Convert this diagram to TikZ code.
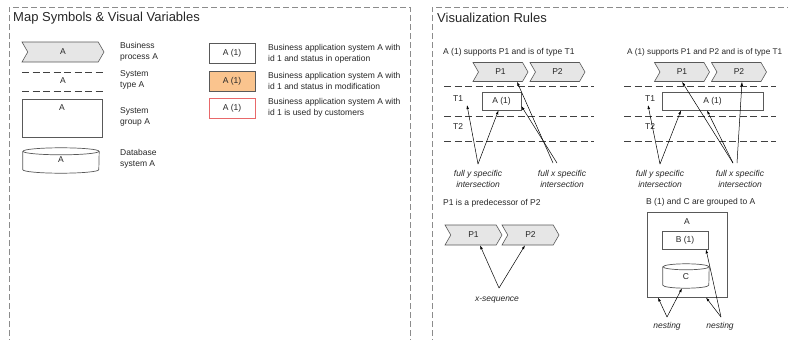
\documentclass[tikz,border=0pt]{standalone}
\usepackage{fontspec}
\setmainfont{Liberation Sans}
\usepackage{tikz}
\usetikzlibrary{calc,positioning,arrows.meta,shapes.symbols}
\definecolor{frame}{HTML}{8C8C8C}
\definecolor{rule}{HTML}{404040}
\definecolor{procfill}{HTML}{E6E6E6}
\definecolor{procline}{HTML}{595959}
\definecolor{modfill}{HTML}{FAC48E}
\definecolor{custline}{HTML}{E8686A}
\definecolor{ink}{HTML}{262626}

\begin{document}
\begin{tikzpicture}[x=1pt, y=-1pt, font=\fontsize{8.5}{11}\selectfont, text=ink,
  ttl/.style={anchor=west, inner sep=0pt, font=\fontsize{13}{15}\selectfont},
  lbl/.style={anchor=west, inner sep=0pt, align=left},
  note/.style={inner sep=0pt, align=center, font=\fontsize{8.5}{10.5}\selectfont\itshape},
  proc/.style={signal, signal to=east, signal from=west, signal pointer angle=120, draw=procline, fill=procfill, line width=0.6pt, minimum height=19pt, minimum width=55pt, inner sep=0pt},
  app/.style={rectangle, draw=procline, fill=white, line width=0.7pt, minimum height=18pt, inner sep=0pt},
  dbbox/.style={rectangle, inner sep=0pt},
  dbline/.style={draw=procline, line width=0.7pt},
  arr/.style={-{Latex[length=4pt,width=2.6pt]}, line width=0.5pt, black}]
\tikzstyle{panel}=[draw=frame, line width=0.8pt, dash pattern=on 6pt off 3pt]
\tikzstyle{lane}=[draw=rule, line width=0.7pt, dash pattern=on 7pt off 3.5pt]
\useasboundingbox (0,0) rectangle (788,340);

% panels
\draw[panel] (9,345) -- (9,7) -- (410,7) -- (410,345);
\draw[panel] (432,345) -- (432,7) -- (795,7);
\node[ttl] (mapttl) at (13,18) {Map Symbols \& Visual Variables};
\node[ttl] (rulttl) at (437,18) {Visualization Rules};

% legend, first column
\node[proc, minimum width=82pt, minimum height=20pt] (bp) at (63,52) {A};
\node (st) at (63,81) {A};
\draw[lane] (22,72) -- (104,72) (22,91) -- (104,91);
\node[app, minimum width=80pt, minimum height=38pt] (sg) at (62,118) {};
\node (sgA) at (62,108) {A};
\node[dbbox, minimum width=76pt, minimum height=25pt] (dbA) at (61,160.5) {};
\draw[dbline] ([yshift=-3.5pt]dbA.north west) -- ([yshift=3.5pt]dbA.south west)
  arc[start angle=180, end angle=360, x radius=38pt, y radius=3.5pt] -- ([yshift=-3.5pt]dbA.north east);
\draw[dbline] ([yshift=-3.5pt]dbA.north) ellipse [x radius=38pt, y radius=3.5pt];
\node (dbAt) at (61,160) {A};
\node[lbl] (bpl) at (120,52) {Business\\process A};
\node[lbl] (stl) at (120,80) {System\\type A};
\node[lbl] (sgl) at (120,117) {System\\group A};
\node[lbl] (dbl) at (120,159) {Database\\system A};

% legend, second column
\node[app, minimum width=46pt, minimum height=20pt] (op) at (232,53) {A (1)};
\node[app, minimum width=46pt, minimum height=20pt, fill=modfill] (md) at (232,81) {A (1)};
\node[app, minimum width=46pt, minimum height=20pt, draw=custline] (cu) at (232,108.5) {A (1)};
\node[lbl] (opl) at (268,53.5) {Business application system A with\\id 1 and status in operation};
\node[lbl] (mdl) at (268,80.5) {Business application system A with\\id 1 and status in modification};
\node[lbl] (cul) at (268,108) {Business application system A with\\id 1 is used by customers};

% rule 1
\node[lbl] (r1) at (443,52) {A (1) supports P1 and is of type T1};
\node[proc] (p1a) at (500.5,72) {P1};
\node[proc] (p2a) at (557.5,72) {P2};
\draw[lane] (444,86) -- (594,86) (444,116) -- (594,116) (444,141) -- (594,141);
\node[lbl] (t1a) at (453,99) {T1};
\node[lbl] (t2a) at (453,127) {T2};
\node[app, minimum width=39pt] (a1a) at (501.5,101) {A (1)};
\node[note] (fya) at (478,179) {full y specific\\intersection};
\node[note] (fxa) at (562,179) {full x specific\\intersection};
\coordinate (ya) at (478,164);
\coordinate (xa1) at (553,163);
\coordinate (xa2) at (557,163);
\coordinate (t1ahit) at (467,105);
\coordinate (a1ahit) at ([xshift=-3pt]a1a.south);
\coordinate (p1ahit) at ([xshift=16.5pt]p1a.south);
\coordinate (a1aside) at ([yshift=-5pt]a1a.east);

% rule 2
\node[lbl, font=\fontsize{8.2}{11}\selectfont] (r2) at (627,52) {A (1) supports P1 and P2 and is of type T1};
\node[proc] (p1b) at (682,72) {P1};
\node[proc] (p2b) at (739,72) {P2};
\draw[lane] (624,86) -- (776,86) (624,116) -- (776,116) (624,141) -- (776,141);
\node[lbl] (t1b) at (645,99) {T1};
\node[lbl] (t2b) at (645,127) {T2};
\node[app, minimum width=101pt] (a1b) at (712.5,101) {A (1)};
\node[note] (fyb) at (660,179) {full y specific\\intersection};
\node[note] (fxb) at (740,179) {full x specific\\intersection};
\coordinate (yb) at (660,164);
\coordinate (xb1) at (733,163);
\coordinate (xb2) at (737,163);
\coordinate (t1bhit) at (648,105);
\coordinate (a1bhit) at ([xshift=-31.5pt]a1b.south);
\coordinate (a1bmid) at ([xshift=-5.5pt]a1b.south);
\coordinate (p2bhit) at ([xshift=3pt]p2b.south);

% rule 3
\node[lbl] (r3) at (443,203) {P1 is a predecessor of P2};
\node[proc, minimum width=57pt, minimum height=20pt] (p1c) at (473.5,235) {P1};
\node[proc, minimum width=57pt, minimum height=20pt] (p2c) at (530.5,235) {P2};
\node[note] (xs) at (497,300) {x-sequence};
\coordinate (xc) at (499,288);
\coordinate (p1chit) at ([xshift=6.5pt]p1c.south);
\coordinate (p2chit) at ([xshift=-5.5pt]p2c.south);

% rule 4
\node[lbl] (r4) at (646,202) {B (1) and C are grouped to A};
\node[app, line width=1pt, minimum width=80pt, minimum height=85pt] (ga) at (687,254.5) {};
\node (gaA) at (687,222) {A};
\node[app, minimum width=46pt] (b1) at (685,240) {B (1)};
\node[dbbox, minimum width=46pt, minimum height=24pt] (cc) at (686,276) {};
\draw[dbline] ([yshift=-3pt]cc.north west) -- ([yshift=3pt]cc.south west)
  arc[start angle=180, end angle=360, x radius=23pt, y radius=3pt] -- ([yshift=-3pt]cc.north east);
\draw[dbline] ([yshift=-3pt]cc.north) ellipse [x radius=23pt, y radius=3pt];
\node (cct) at (686,277) {C};
\node[note] (ns1) at (667,326) {nesting};
\node[note] (ns2) at (720,326) {nesting};
\coordinate (n1) at (667,317);
\coordinate (n2) at (721,317);
\coordinate (gahit1) at ([xshift=-29pt]ga.south);
\coordinate (gahit2) at ([xshift=19pt]ga.south);
\coordinate (cchit) at ([xshift=-4pt]cc.south);
\coordinate (b1hit) at ([xshift=21pt]b1.south);

\foreach \i/\j in {ya/t1ahit,ya/a1ahit,xa1/p1ahit,xa2/a1aside,
  yb/t1bhit,yb/a1bhit,xb1/p1b.south,xb1/a1bmid,xb2/p2bhit,
  xc/p1chit,xc/p2chit,n1/gahit1,n1/cchit,n2/gahit2,n2/b1hit}{\draw[arr] (\i) -- (\j);}
\end{tikzpicture}
\end{document}
